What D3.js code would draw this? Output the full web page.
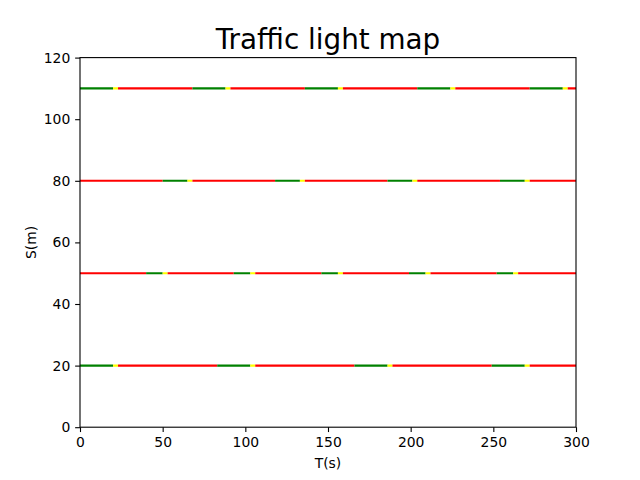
<!DOCTYPE html>
<html>
<head>
<meta charset="utf-8">
<script src="https://cdn.jsdelivr.net/npm/d3@7"></script>
<style>
  html, body { margin: 0; padding: 0; background: #fff; }
  svg { display: block; font-family: "DejaVu Sans", sans-serif; }
</style>
</head>
<body>
<script>
// ---- data ----
const titleText = "Traffic light map";
const xLabel = "T(s)";
const yLabel = "S(m)";
const xTicks = [0, 50, 100, 150, 200, 250, 300];
const yTicks = [0, 20, 40, 60, 80, 100, 120];
const lightPositions = [20, 50, 80, 110];

// phase boundary times (s) and states for each signal
const light20Times  = [0, 20, 23, 83, 103, 106, 166, 186, 189, 249, 269, 272, 300];
const light20States = ["G","Y","R","G","Y","R","G","Y","R","G","Y","R"];
const light50Times  = [0, 40, 50, 53, 93, 103, 106, 146, 156, 159, 199, 209, 212, 252, 262, 265, 300];
const light50States = ["R","G","Y","R","G","Y","R","G","Y","R","G","Y","R","G","Y","R"];
const light80Times  = [0, 50, 65, 68, 118, 133, 136, 186, 201, 204, 254, 269, 272, 300];
const light80States = ["R","G","Y","R","G","Y","R","G","Y","R","G","Y","R"];
const light110Times  = [0, 20, 23, 68, 88, 91, 136, 156, 159, 204, 224, 227, 272, 292, 295, 300];
const light110States = ["G","Y","R","G","Y","R","G","Y","R","G","Y","R","G","Y","R"];

const lights = [
  { s: lightPositions[0], times: light20Times,  states: light20States },
  { s: lightPositions[1], times: light50Times,  states: light50States },
  { s: lightPositions[2], times: light80Times,  states: light80States },
  { s: lightPositions[3], times: light110Times, states: light110States }
];

// ---- layout ----
const W = 640, H = 480;
const m = { left: 80, right: 576, top: 57.6, bottom: 427.2 };

const x = d3.scaleLinear().domain([0, 300]).range([m.left, m.right]);
const y = d3.scaleLinear().domain([0, 120]).range([m.bottom, m.top]);
const color = d3.scaleOrdinal().domain(["G","Y","R"]).range(["#008000", "#ffff00", "#ff0000"]);

const svg = d3.select("body").append("svg").attr("width", W).attr("height", H);
svg.append("rect").attr("width", W).attr("height", H).attr("fill", "#fff");

svg.append("defs").append("clipPath").attr("id", "clip")
  .append("rect").attr("x", m.left).attr("y", m.top)
  .attr("width", m.right - m.left).attr("height", m.bottom - m.top);

const segs = [];
lights.forEach(l => {
  l.states.forEach((st, i) => {
    segs.push({ s: l.s, t0: l.times[i], t1: l.times[i + 1], st });
  });
});

svg.append("g").attr("clip-path", "url(#clip)")
  .selectAll("line").data(segs).join("line")
  .attr("x1", d => x(d.t0)).attr("x2", d => x(d.t1))
  .attr("y1", d => y(d.s)).attr("y2", d => y(d.s))
  .attr("stroke", d => color(d.st))
  .attr("stroke-width", 2.08);

// axes
const tickLen = 4.86, pad = 4.86;
const xAxis = d3.axisBottom(x).tickValues(xTicks).tickFormat(d3.format("d"))
  .tickSizeInner(tickLen).tickSizeOuter(0).tickPadding(pad);
const yAxis = d3.axisLeft(y).tickValues(yTicks).tickFormat(d3.format("d"))
  .tickSizeInner(tickLen).tickSizeOuter(0).tickPadding(pad);

const gx = svg.append("g").attr("transform", `translate(0,${m.bottom})`).call(xAxis);
const gy = svg.append("g").attr("transform", `translate(${m.left},0)`).call(yAxis);
[gx, gy].forEach(g => {
  g.select(".domain").remove();
  g.selectAll(".tick line").attr("stroke", "#000").attr("stroke-width", 1.1);
  g.selectAll(".tick text").attr("fill", "#000")
    .style("font-family", "DejaVu Sans").style("font-size", "13.9px");
});
gx.selectAll(".tick text").attr("dy", "0.76em");

// spines
svg.append("rect")
  .attr("x", m.left).attr("y", m.top)
  .attr("width", m.right - m.left).attr("height", m.bottom - m.top)
  .attr("fill", "none").attr("stroke", "#000").attr("stroke-width", 1.1);

// labels
svg.append("text").attr("x", (m.left + m.right) / 2).attr("y", 49)
  .attr("text-anchor", "middle").style("font-size", "27.8px").attr("fill", "#000")
  .text(titleText);
svg.append("text").attr("x", (m.left + m.right) / 2).attr("y", 468)
  .attr("text-anchor", "middle").style("font-size", "13.9px").attr("fill", "#000")
  .text(xLabel);
svg.append("text").attr("transform", `translate(36,${(m.top + m.bottom) / 2}) rotate(-90)`)
  .attr("text-anchor", "middle").style("font-size", "13.9px").attr("fill", "#000")
  .text(yLabel);
</script>
</body>
</html>
